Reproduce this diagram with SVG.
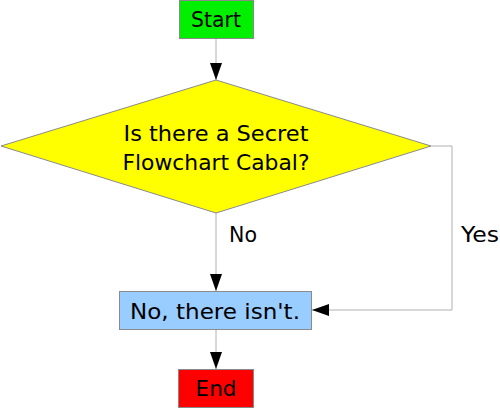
<svg xmlns="http://www.w3.org/2000/svg" width="500" height="408" viewBox="0 0 500 408">
<defs>
<style>
text{font-family:"DejaVu Sans","Liberation Sans",sans-serif;font-size:22px;fill:#000;text-anchor:middle}
.lbl{text-anchor:start}
.edge{fill:none;stroke:#b0b0b0;stroke-width:1}
.box{stroke:#8a8a8a;stroke-width:1}
</style>
<marker id="arr" markerUnits="userSpaceOnUse" markerWidth="17" markerHeight="12" refX="17" refY="6" orient="auto" viewBox="0 0 17 12">
<path d="M0,0 L17,6 L0,12 z" fill="#000"/>
</marker>
</defs>
<g id="connectors">
<path class="edge" d="M216,38 L216,80" marker-end="url(#arr)"/>
<path class="edge" d="M216,213 L216,291" marker-end="url(#arr)"/>
<path class="edge" d="M431,146 L452,146 L452,310 L312,310" marker-end="url(#arr)"/>
<path class="edge" d="M216,329 L216,369" marker-end="url(#arr)"/>
<text class="lbl" x="229" y="242" textLength="28" lengthAdjust="spacingAndGlyphs">No</text>
<text class="lbl" x="461" y="242" textLength="38" lengthAdjust="spacingAndGlyphs">Yes</text>
</g>
<g id="start">
<rect class="box" x="179.5" y="0.5" width="74" height="38" fill="#00f000"/>
<text x="216" y="27" textLength="50" lengthAdjust="spacingAndGlyphs">Start</text>
</g>
<g id="decision">
<polygon class="box" points="216,80 431,146 216,213 1,146" fill="#ffff00"/>
<text x="216" y="141" textLength="185" lengthAdjust="spacingAndGlyphs">Is there a Secret</text>
<text x="216" y="170" textLength="187" lengthAdjust="spacingAndGlyphs">Flowchart Cabal?</text>
</g>
<g id="process">
<rect class="box" x="119.5" y="291.5" width="192" height="38" fill="#99ccff"/>
<text x="215" y="319" textLength="170" lengthAdjust="spacingAndGlyphs">No, there isn't.</text>
</g>
<g id="end">
<rect class="box" x="178.5" y="369.5" width="75" height="38" fill="#ff0000"/>
<text x="216" y="396" textLength="41" lengthAdjust="spacingAndGlyphs">End</text>
</g>
</svg>
